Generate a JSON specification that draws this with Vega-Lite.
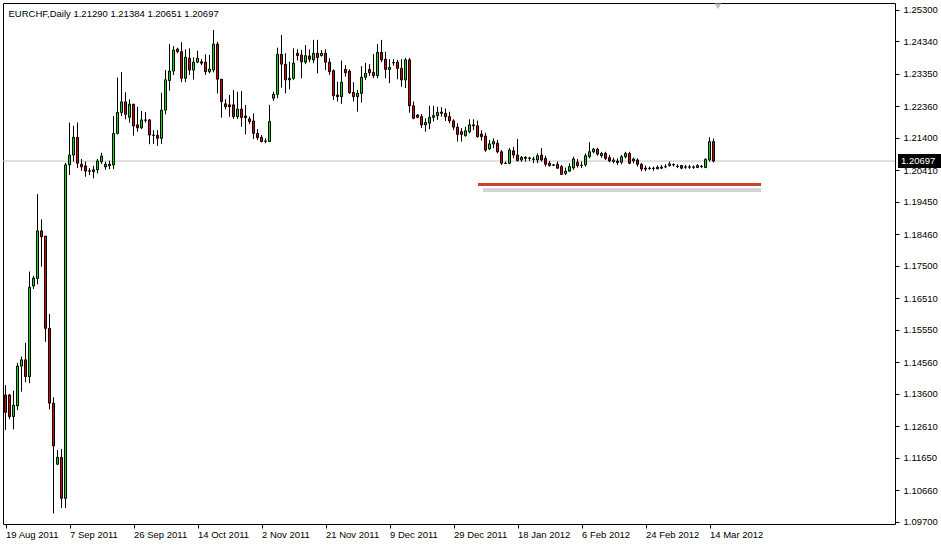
{
  "$schema": "https://vega.github.io/schema/vega-lite/v6.json",
  "width": 892,
  "height": 521,
  "autosize": {"type": "none"},
  "padding": {"left": 3, "top": 3, "right": 46, "bottom": 21},
  "background": "white",
  "config": {"view": {"stroke": "#000000", "strokeWidth": 1}, "font": "Liberation Sans"},
  "title": {"text": "EURCHF,Daily  1.21290 1.21384 1.20651 1.20697", "anchor": "start", "orient": "top", "offset": -14, "dx": 6, "dy": 9, "fontSize": 9.5, "fontWeight": "normal", "font": "Liberation Sans", "color": "#000000", "baseline": "alphabetic"},
  "datasets": {
    "bars": [
      {"i":0,"d":"19 Aug 2011","o":1.1357,"h":1.1387,"l":1.1250,"c":1.1304},
      {"i":1,"d":"21 Aug 2011","o":1.1357,"h":1.1360,"l":1.1283,"c":1.1291},
      {"i":2,"d":"22 Aug 2011","o":1.1291,"h":1.1370,"l":1.1252,"c":1.1326},
      {"i":3,"d":"23 Aug 2011","o":1.1324,"h":1.1455,"l":1.1311,"c":1.1445},
      {"i":4,"d":"24 Aug 2011","o":1.1445,"h":1.1474,"l":1.1367,"c":1.1464},
      {"i":5,"d":"25 Aug 2011","o":1.1464,"h":1.1516,"l":1.1396,"c":1.1413},
      {"i":6,"d":"26 Aug 2011","o":1.1413,"h":1.1733,"l":1.1393,"c":1.1685},
      {"i":7,"d":"28 Aug 2011","o":1.1689,"h":1.1720,"l":1.1680,"c":1.1713},
      {"i":8,"d":"29 Aug 2011","o":1.1712,"h":1.1969,"l":1.1694,"c":1.1857},
      {"i":9,"d":"30 Aug 2011","o":1.1857,"h":1.1892,"l":1.1748,"c":1.1839},
      {"i":10,"d":"31 Aug 2011","o":1.1841,"h":1.1841,"l":1.1519,"c":1.1560},
      {"i":11,"d":"1 Sep 2011","o":1.1560,"h":1.1604,"l":1.1313,"c":1.1332},
      {"i":12,"d":"2 Sep 2011","o":1.1332,"h":1.1350,"l":1.0996,"c":1.1202},
      {"i":13,"d":"4 Sep 2011","o":1.1146,"h":1.1189,"l":1.1144,"c":1.1167},
      {"i":14,"d":"5 Sep 2011","o":1.1167,"h":1.1192,"l":1.1012,"c":1.1042},
      {"i":15,"d":"6 Sep 2011","o":1.1042,"h":1.2064,"l":1.1012,"c":1.2058},
      {"i":16,"d":"7 Sep 2011","o":1.2058,"h":1.2187,"l":1.2027,"c":1.2088},
      {"i":17,"d":"8 Sep 2011","o":1.2088,"h":1.2177,"l":1.2068,"c":1.2142},
      {"i":18,"d":"9 Sep 2011","o":1.2142,"h":1.2187,"l":1.2048,"c":1.2063},
      {"i":19,"d":"11 Sep 2011","o":1.2060,"h":1.2076,"l":1.2040,"c":1.2052},
      {"i":20,"d":"12 Sep 2011","o":1.2055,"h":1.2068,"l":1.2022,"c":1.2039},
      {"i":21,"d":"13 Sep 2011","o":1.2040,"h":1.2048,"l":1.2027,"c":1.2039},
      {"i":22,"d":"14 Sep 2011","o":1.2043,"h":1.2055,"l":1.2017,"c":1.2037},
      {"i":23,"d":"15 Sep 2011","o":1.2043,"h":1.2076,"l":1.2032,"c":1.2070},
      {"i":24,"d":"16 Sep 2011","o":1.2068,"h":1.2095,"l":1.2061,"c":1.2085},
      {"i":25,"d":"18 Sep 2011","o":1.2052,"h":1.2068,"l":1.2043,"c":1.2060},
      {"i":26,"d":"19 Sep 2011","o":1.2055,"h":1.2071,"l":1.2045,"c":1.2060},
      {"i":27,"d":"20 Sep 2011","o":1.2058,"h":1.2207,"l":1.2045,"c":1.2154},
      {"i":28,"d":"21 Sep 2011","o":1.2154,"h":1.2324,"l":1.2151,"c":1.2218},
      {"i":29,"d":"22 Sep 2011","o":1.2218,"h":1.2341,"l":1.2207,"c":1.2250},
      {"i":30,"d":"23 Sep 2011","o":1.2250,"h":1.2279,"l":1.2197,"c":1.2212},
      {"i":31,"d":"25 Sep 2011","o":1.2203,"h":1.2258,"l":1.2187,"c":1.2243},
      {"i":32,"d":"26 Sep 2011","o":1.2243,"h":1.2243,"l":1.2147,"c":1.2177},
      {"i":33,"d":"27 Sep 2011","o":1.2180,"h":1.2235,"l":1.2159,"c":1.2171},
      {"i":34,"d":"28 Sep 2011","o":1.2171,"h":1.2222,"l":1.2167,"c":1.2195},
      {"i":35,"d":"29 Sep 2011","o":1.2195,"h":1.2219,"l":1.2187,"c":1.2194},
      {"i":36,"d":"30 Sep 2011","o":1.2195,"h":1.2198,"l":1.2121,"c":1.2149},
      {"i":37,"d":"2 Oct 2011","o":1.2149,"h":1.2164,"l":1.2122,"c":1.2148},
      {"i":38,"d":"3 Oct 2011","o":1.2148,"h":1.2164,"l":1.2116,"c":1.2139},
      {"i":39,"d":"4 Oct 2011","o":1.2139,"h":1.2278,"l":1.2122,"c":1.2225},
      {"i":40,"d":"5 Oct 2011","o":1.2225,"h":1.2347,"l":1.2212,"c":1.2317},
      {"i":41,"d":"6 Oct 2011","o":1.2315,"h":1.2426,"l":1.2284,"c":1.2344},
      {"i":42,"d":"7 Oct 2011","o":1.2344,"h":1.2420,"l":1.2332,"c":1.2408},
      {"i":43,"d":"9 Oct 2011","o":1.2411,"h":1.2415,"l":1.2398,"c":1.2403},
      {"i":44,"d":"10 Oct 2011","o":1.2403,"h":1.2432,"l":1.2310,"c":1.2322},
      {"i":45,"d":"11 Oct 2011","o":1.2322,"h":1.2410,"l":1.2310,"c":1.2386},
      {"i":46,"d":"12 Oct 2011","o":1.2383,"h":1.2413,"l":1.2332,"c":1.2347},
      {"i":47,"d":"13 Oct 2011","o":1.2347,"h":1.2386,"l":1.2318,"c":1.2371},
      {"i":48,"d":"14 Oct 2011","o":1.2371,"h":1.2406,"l":1.2368,"c":1.2383},
      {"i":49,"d":"16 Oct 2011","o":1.2372,"h":1.2380,"l":1.2362,"c":1.2368},
      {"i":50,"d":"17 Oct 2011","o":1.2371,"h":1.2395,"l":1.2332,"c":1.2342},
      {"i":51,"d":"18 Oct 2011","o":1.2342,"h":1.2393,"l":1.2337,"c":1.2350},
      {"i":52,"d":"19 Oct 2011","o":1.2347,"h":1.2469,"l":1.2340,"c":1.2426},
      {"i":53,"d":"20 Oct 2011","o":1.2426,"h":1.2433,"l":1.2276,"c":1.2319},
      {"i":54,"d":"21 Oct 2011","o":1.2319,"h":1.2319,"l":1.2202,"c":1.2251},
      {"i":55,"d":"23 Oct 2011","o":1.2244,"h":1.2258,"l":1.2227,"c":1.2235},
      {"i":56,"d":"24 Oct 2011","o":1.2241,"h":1.2271,"l":1.2205,"c":1.2235},
      {"i":57,"d":"25 Oct 2011","o":1.2241,"h":1.2286,"l":1.2198,"c":1.2205},
      {"i":58,"d":"26 Oct 2011","o":1.2205,"h":1.2281,"l":1.2198,"c":1.2228},
      {"i":59,"d":"27 Oct 2011","o":1.2228,"h":1.2283,"l":1.2174,"c":1.2202},
      {"i":60,"d":"28 Oct 2011","o":1.2207,"h":1.2241,"l":1.2151,"c":1.2202},
      {"i":61,"d":"30 Oct 2011","o":1.2198,"h":1.2205,"l":1.2182,"c":1.2190},
      {"i":62,"d":"31 Oct 2011","o":1.2192,"h":1.2215,"l":1.2137,"c":1.2154},
      {"i":63,"d":"1 Nov 2011","o":1.2154,"h":1.2167,"l":1.2134,"c":1.2141},
      {"i":64,"d":"2 Nov 2011","o":1.2142,"h":1.2149,"l":1.2127,"c":1.2129},
      {"i":65,"d":"3 Nov 2011","o":1.2131,"h":1.2139,"l":1.2124,"c":1.2130},
      {"i":66,"d":"4 Nov 2011","o":1.2129,"h":1.2241,"l":1.2128,"c":1.2190},
      {"i":67,"d":"6 Nov 2011","o":1.2261,"h":1.2281,"l":1.2253,"c":1.2273},
      {"i":68,"d":"7 Nov 2011","o":1.2273,"h":1.2415,"l":1.2261,"c":1.2395},
      {"i":69,"d":"8 Nov 2011","o":1.2395,"h":1.2454,"l":1.2293,"c":1.2365},
      {"i":70,"d":"9 Nov 2011","o":1.2365,"h":1.2398,"l":1.2276,"c":1.2317},
      {"i":71,"d":"10 Nov 2011","o":1.2317,"h":1.2372,"l":1.2288,"c":1.2322},
      {"i":72,"d":"11 Nov 2011","o":1.2322,"h":1.2413,"l":1.2317,"c":1.2368},
      {"i":73,"d":"13 Nov 2011","o":1.2398,"h":1.2410,"l":1.2376,"c":1.2391},
      {"i":74,"d":"14 Nov 2011","o":1.2393,"h":1.2408,"l":1.2322,"c":1.2372},
      {"i":75,"d":"15 Nov 2011","o":1.2371,"h":1.2423,"l":1.2365,"c":1.2391},
      {"i":76,"d":"16 Nov 2011","o":1.2390,"h":1.2410,"l":1.2371,"c":1.2380},
      {"i":77,"d":"17 Nov 2011","o":1.2378,"h":1.2439,"l":1.2368,"c":1.2398},
      {"i":78,"d":"18 Nov 2011","o":1.2398,"h":1.2439,"l":1.2337,"c":1.2385},
      {"i":79,"d":"20 Nov 2011","o":1.2391,"h":1.2408,"l":1.2388,"c":1.2398},
      {"i":80,"d":"21 Nov 2011","o":1.2398,"h":1.2410,"l":1.2347,"c":1.2371},
      {"i":81,"d":"22 Nov 2011","o":1.2371,"h":1.2383,"l":1.2332,"c":1.2342},
      {"i":82,"d":"23 Nov 2011","o":1.2345,"h":1.2349,"l":1.2256,"c":1.2269},
      {"i":83,"d":"24 Nov 2011","o":1.2271,"h":1.2312,"l":1.2251,"c":1.2266},
      {"i":84,"d":"25 Nov 2011","o":1.2266,"h":1.2376,"l":1.2244,"c":1.2310},
      {"i":85,"d":"27 Nov 2011","o":1.2349,"h":1.2362,"l":1.2327,"c":1.2339},
      {"i":86,"d":"28 Nov 2011","o":1.2344,"h":1.2349,"l":1.2274,"c":1.2278},
      {"i":87,"d":"29 Nov 2011","o":1.2279,"h":1.2310,"l":1.2251,"c":1.2266},
      {"i":88,"d":"30 Nov 2011","o":1.2266,"h":1.2286,"l":1.2220,"c":1.2276},
      {"i":89,"d":"1 Dec 2011","o":1.2276,"h":1.2359,"l":1.2248,"c":1.2325},
      {"i":90,"d":"2 Dec 2011","o":1.2325,"h":1.2369,"l":1.2317,"c":1.2337},
      {"i":91,"d":"4 Dec 2011","o":1.2349,"h":1.2365,"l":1.2329,"c":1.2339},
      {"i":92,"d":"5 Dec 2011","o":1.2340,"h":1.2396,"l":1.2322,"c":1.2330},
      {"i":93,"d":"6 Dec 2011","o":1.2330,"h":1.2426,"l":1.2322,"c":1.2401},
      {"i":94,"d":"7 Dec 2011","o":1.2401,"h":1.2439,"l":1.2371,"c":1.2378},
      {"i":95,"d":"8 Dec 2011","o":1.2380,"h":1.2403,"l":1.2322,"c":1.2349},
      {"i":96,"d":"9 Dec 2011","o":1.2349,"h":1.2380,"l":1.2307,"c":1.2355},
      {"i":97,"d":"11 Dec 2011","o":1.2369,"h":1.2380,"l":1.2360,"c":1.2370},
      {"i":98,"d":"12 Dec 2011","o":1.2371,"h":1.2378,"l":1.2319,"c":1.2352},
      {"i":99,"d":"13 Dec 2011","o":1.2352,"h":1.2380,"l":1.2296,"c":1.2317},
      {"i":100,"d":"14 Dec 2011","o":1.2317,"h":1.2384,"l":1.2292,"c":1.2378},
      {"i":101,"d":"15 Dec 2011","o":1.2378,"h":1.2384,"l":1.2217,"c":1.2238},
      {"i":102,"d":"16 Dec 2011","o":1.2238,"h":1.2251,"l":1.2197,"c":1.2200},
      {"i":103,"d":"18 Dec 2011","o":1.2210,"h":1.2213,"l":1.2200,"c":1.2203},
      {"i":104,"d":"19 Dec 2011","o":1.2205,"h":1.2213,"l":1.2170,"c":1.2180},
      {"i":105,"d":"20 Dec 2011","o":1.2180,"h":1.2200,"l":1.2159,"c":1.2187},
      {"i":106,"d":"21 Dec 2011","o":1.2185,"h":1.2238,"l":1.2167,"c":1.2203},
      {"i":107,"d":"22 Dec 2011","o":1.2203,"h":1.2238,"l":1.2190,"c":1.2208},
      {"i":108,"d":"23 Dec 2011","o":1.2208,"h":1.2235,"l":1.2195,"c":1.2218},
      {"i":109,"d":"26 Dec 2011","o":1.2215,"h":1.2234,"l":1.2205,"c":1.2219},
      {"i":110,"d":"27 Dec 2011","o":1.2215,"h":1.2230,"l":1.2192,"c":1.2205},
      {"i":111,"d":"28 Dec 2011","o":1.2205,"h":1.2220,"l":1.2185,"c":1.2192},
      {"i":112,"d":"29 Dec 2011","o":1.2192,"h":1.2197,"l":1.2164,"c":1.2173},
      {"i":113,"d":"30 Dec 2011","o":1.2173,"h":1.2185,"l":1.2129,"c":1.2151},
      {"i":114,"d":"2 Jan 2012","o":1.2159,"h":1.2170,"l":1.2129,"c":1.2151},
      {"i":115,"d":"3 Jan 2012","o":1.2147,"h":1.2174,"l":1.2144,"c":1.2162},
      {"i":116,"d":"4 Jan 2012","o":1.2159,"h":1.2197,"l":1.2154,"c":1.2180},
      {"i":117,"d":"5 Jan 2012","o":1.2177,"h":1.2197,"l":1.2164,"c":1.2180},
      {"i":118,"d":"6 Jan 2012","o":1.2177,"h":1.2193,"l":1.2141,"c":1.2144},
      {"i":119,"d":"8 Jan 2012","o":1.2152,"h":1.2164,"l":1.2132,"c":1.2144},
      {"i":120,"d":"9 Jan 2012","o":1.2146,"h":1.2156,"l":1.2098,"c":1.2103},
      {"i":121,"d":"10 Jan 2012","o":1.2107,"h":1.2134,"l":1.2103,"c":1.2122},
      {"i":122,"d":"11 Jan 2012","o":1.2122,"h":1.2139,"l":1.2109,"c":1.2129},
      {"i":123,"d":"12 Jan 2012","o":1.2124,"h":1.2134,"l":1.2093,"c":1.2098},
      {"i":124,"d":"13 Jan 2012","o":1.2098,"h":1.2103,"l":1.2058,"c":1.2063},
      {"i":125,"d":"15 Jan 2012","o":1.2063,"h":1.2068,"l":1.2061,"c":1.2062},
      {"i":126,"d":"16 Jan 2012","o":1.2063,"h":1.2109,"l":1.2060,"c":1.2103},
      {"i":127,"d":"17 Jan 2012","o":1.2101,"h":1.2113,"l":1.2078,"c":1.2088},
      {"i":128,"d":"18 Jan 2012","o":1.2088,"h":1.2137,"l":1.2068,"c":1.2071},
      {"i":129,"d":"19 Jan 2012","o":1.2073,"h":1.2085,"l":1.2068,"c":1.2081},
      {"i":130,"d":"20 Jan 2012","o":1.2081,"h":1.2085,"l":1.2068,"c":1.2078},
      {"i":131,"d":"22 Jan 2012","o":1.2078,"h":1.2083,"l":1.2070,"c":1.2079},
      {"i":132,"d":"23 Jan 2012","o":1.2076,"h":1.2083,"l":1.2063,"c":1.2075},
      {"i":133,"d":"24 Jan 2012","o":1.2073,"h":1.2093,"l":1.2063,"c":1.2086},
      {"i":134,"d":"25 Jan 2012","o":1.2088,"h":1.2109,"l":1.2068,"c":1.2073},
      {"i":135,"d":"26 Jan 2012","o":1.2078,"h":1.2086,"l":1.2053,"c":1.2060},
      {"i":136,"d":"27 Jan 2012","o":1.2063,"h":1.2070,"l":1.2053,"c":1.2056},
      {"i":137,"d":"29 Jan 2012","o":1.2058,"h":1.2061,"l":1.2055,"c":1.2057},
      {"i":138,"d":"30 Jan 2012","o":1.2060,"h":1.2068,"l":1.2046,"c":1.2048},
      {"i":139,"d":"31 Jan 2012","o":1.2053,"h":1.2058,"l":1.2027,"c":1.2029},
      {"i":140,"d":"1 Feb 2012","o":1.2032,"h":1.2050,"l":1.2027,"c":1.2039},
      {"i":141,"d":"2 Feb 2012","o":1.2039,"h":1.2063,"l":1.2037,"c":1.2053},
      {"i":142,"d":"3 Feb 2012","o":1.2049,"h":1.2083,"l":1.2043,"c":1.2076},
      {"i":143,"d":"5 Feb 2012","o":1.2066,"h":1.2076,"l":1.2050,"c":1.2056},
      {"i":144,"d":"6 Feb 2012","o":1.2056,"h":1.2068,"l":1.2048,"c":1.2057},
      {"i":145,"d":"7 Feb 2012","o":1.2058,"h":1.2093,"l":1.2053,"c":1.2086},
      {"i":146,"d":"8 Feb 2012","o":1.2083,"h":1.2127,"l":1.2078,"c":1.2098},
      {"i":147,"d":"9 Feb 2012","o":1.2098,"h":1.2110,"l":1.2093,"c":1.2106},
      {"i":148,"d":"10 Feb 2012","o":1.2106,"h":1.2110,"l":1.2086,"c":1.2091},
      {"i":149,"d":"12 Feb 2012","o":1.2086,"h":1.2098,"l":1.2080,"c":1.2093},
      {"i":150,"d":"13 Feb 2012","o":1.2093,"h":1.2098,"l":1.2073,"c":1.2078},
      {"i":151,"d":"14 Feb 2012","o":1.2080,"h":1.2088,"l":1.2066,"c":1.2070},
      {"i":152,"d":"15 Feb 2012","o":1.2068,"h":1.2080,"l":1.2063,"c":1.2073},
      {"i":153,"d":"16 Feb 2012","o":1.2070,"h":1.2078,"l":1.2058,"c":1.2065},
      {"i":154,"d":"17 Feb 2012","o":1.2066,"h":1.2088,"l":1.2060,"c":1.2083},
      {"i":155,"d":"19 Feb 2012","o":1.2083,"h":1.2098,"l":1.2078,"c":1.2093},
      {"i":156,"d":"20 Feb 2012","o":1.2093,"h":1.2098,"l":1.2060,"c":1.2063},
      {"i":157,"d":"21 Feb 2012","o":1.2070,"h":1.2080,"l":1.2063,"c":1.2076},
      {"i":158,"d":"22 Feb 2012","o":1.2073,"h":1.2078,"l":1.2053,"c":1.2060},
      {"i":159,"d":"23 Feb 2012","o":1.2060,"h":1.2063,"l":1.2039,"c":1.2046},
      {"i":160,"d":"24 Feb 2012","o":1.2048,"h":1.2056,"l":1.2039,"c":1.2045},
      {"i":161,"d":"26 Feb 2012","o":1.2048,"h":1.2053,"l":1.2043,"c":1.2047},
      {"i":162,"d":"27 Feb 2012","o":1.2047,"h":1.2053,"l":1.2040,"c":1.2048},
      {"i":163,"d":"28 Feb 2012","o":1.2046,"h":1.2056,"l":1.2045,"c":1.2051},
      {"i":164,"d":"29 Feb 2012","o":1.2048,"h":1.2058,"l":1.2045,"c":1.2051},
      {"i":165,"d":"1 Mar 2012","o":1.2053,"h":1.2060,"l":1.2048,"c":1.2052},
      {"i":166,"d":"2 Mar 2012","o":1.2056,"h":1.2068,"l":1.2053,"c":1.2061},
      {"i":167,"d":"4 Mar 2012","o":1.2059,"h":1.2063,"l":1.2053,"c":1.2058},
      {"i":168,"d":"5 Mar 2012","o":1.2053,"h":1.2060,"l":1.2048,"c":1.2054},
      {"i":169,"d":"6 Mar 2012","o":1.2056,"h":1.2058,"l":1.2045,"c":1.2048},
      {"i":170,"d":"7 Mar 2012","o":1.2051,"h":1.2058,"l":1.2046,"c":1.2052},
      {"i":171,"d":"8 Mar 2012","o":1.2051,"h":1.2058,"l":1.2046,"c":1.2052},
      {"i":172,"d":"9 Mar 2012","o":1.2052,"h":1.2056,"l":1.2046,"c":1.2051},
      {"i":173,"d":"11 Mar 2012","o":1.2050,"h":1.2060,"l":1.2048,"c":1.2056},
      {"i":174,"d":"12 Mar 2012","o":1.2053,"h":1.2058,"l":1.2048,"c":1.2054},
      {"i":175,"d":"13 Mar 2012","o":1.2050,"h":1.2078,"l":1.2048,"c":1.2075},
      {"i":176,"d":"14 Mar 2012","o":1.2073,"h":1.2142,"l":1.2068,"c":1.2129},
      {"i":177,"d":"15 Mar 2012","o":1.21290,"h":1.21384,"l":1.20651,"c":1.20697}
    ],
    "last": [{"p": 1.20697}],
    "support": [{"start": 118.125, "end": 188.875, "level": 1.1998}]
  },
  "layer": [
    {
      "data": {"name": "bars"},
      "mark": {"type": "bar", "width": 2, "stroke": "#000000", "strokeWidth": 1, "opacity": 0},
      "encoding": {
        "x": {
          "field": "i", "type": "quantitative", "title": null,
          "scale": {"domain": [-0.625, 222.375], "nice": false, "zero": false, "padding": 0},
          "axis": {
            "values": [0, 16, 32, 48, 64, 80, 96, 112, 128, 144, 160, 176],
            "tickCount": 30,
            "labelExpr": "['19 Aug 2011','7 Sep 2011','26 Sep 2011','14 Oct 2011','2 Nov 2011','21 Nov 2011','9 Dec 2011','29 Dec 2011','18 Jan 2012','6 Feb 2012','24 Feb 2012','14 Mar 2012'][round(datum.value/16)]",
            "labelAlign": "left", "labelBaseline": "top", "labelFlush": false, "labelOverlap": false,
            "labelFont": "Liberation Sans", "labelFontSize": 9.5, "labelColor": "#000000", "labelPadding": 1, "labelOffset": 0,
            "tickSize": 4, "tickColor": "#000000", "domain": false, "grid": false, "title": null
          }
        },
        "y": {
          "field": "o", "type": "quantitative", "title": null,
          "scale": {"domain": [1.09638, 1.25513], "nice": false, "zero": false, "padding": 0},
          "axis": {
            "orient": "right",
            "values": [1.253, 1.2434, 1.2335, 1.2236, 1.214, 1.2041, 1.1945, 1.1846, 1.175, 1.1651, 1.1555, 1.1456, 1.136, 1.1261, 1.1165, 1.1066, 1.097],
            "tickCount": 30,
            "format": ".5f",
            "labelFont": "Liberation Sans", "labelFontSize": 9.5, "labelColor": "#000000", "labelPadding": 4, "labelBaseline": "middle", "labelFlush": false, "labelOverlap": false,
            "tickSize": 4, "tickColor": "#000000", "domain": false, "grid": false, "title": null
          }
        },
        "y2": {"field": "c"}
      }
    },
    {
      "data": {"name": "last"},
      "mark": {"type": "rule", "color": "#c0c0c0", "strokeWidth": 1},
      "encoding": {
        "y": {"field": "p", "type": "quantitative", "title": null}
      }
    },
    {
      "data": {"name": "support"},
      "mark": {"type": "rule", "color": "#cccccc", "strokeWidth": 4, "opacity": 0.85, "xOffset": 5, "yOffset": 5.5},
      "encoding": {
        "x": {"field": "start", "type": "quantitative", "title": null},
        "x2": {"field": "end"},
        "y": {"field": "level", "type": "quantitative", "title": null}
      }
    },
    {
      "data": {"name": "support"},
      "mark": {"type": "rule", "color": "#c8442c", "strokeWidth": 3},
      "encoding": {
        "x": {"field": "start", "type": "quantitative", "title": null},
        "x2": {"field": "end"},
        "y": {"field": "level", "type": "quantitative", "title": null}
      }
    },
    {
      "data": {"name": "bars"},
      "mark": {"type": "rule", "color": "#000000", "strokeWidth": 1},
      "encoding": {
        "x": {"field": "i", "type": "quantitative", "title": null},
        "y": {"field": "l", "type": "quantitative", "title": null},
        "y2": {"field": "h"}
      }
    },
    {
      "data": {"name": "bars"},
      "mark": {"type": "bar", "width": 2, "stroke": "#000000", "strokeWidth": 1},
      "encoding": {
        "x": {"field": "i", "type": "quantitative", "title": null},
        "y": {"field": "o", "type": "quantitative", "title": null},
        "y2": {"field": "c"},
        "fill": {"condition": {"test": "datum.c > datum.o", "value": "#00e000"}, "value": "#e00000"}
      }
    },
    {
      "data": {"name": "last"},
      "mark": {"type": "rect", "color": "#000000"},
      "encoding": {
        "x": {"datum": 223.125, "type": "quantitative", "title": null},
        "x2": {"datum": 233.875},
        "y": {"datum": 1.20912, "type": "quantitative", "title": null},
        "y2": {"datum": 1.20486}
      }
    },
    {
      "data": {"name": "last"},
      "mark": {"type": "text", "color": "#ffffff", "align": "left", "baseline": "middle", "font": "Liberation Sans", "fontSize": 9.5, "dx": 3},
      "encoding": {
        "x": {"datum": 223.125, "type": "quantitative", "title": null},
        "y": {"field": "p", "type": "quantitative", "title": null},
        "text": {"field": "p", "type": "quantitative", "format": ".5f"}
      }
    },
    {
      "data": {"name": "last"},
      "mark": {"type": "point", "shape": "triangle-down", "filled": true, "color": "#c0c0c0", "size": 45, "opacity": 1},
      "encoding": {
        "x": {"datum": 178.125, "type": "quantitative", "title": null},
        "y": {"datum": 1.2541, "type": "quantitative", "title": null}
      }
    }
  ]
}
